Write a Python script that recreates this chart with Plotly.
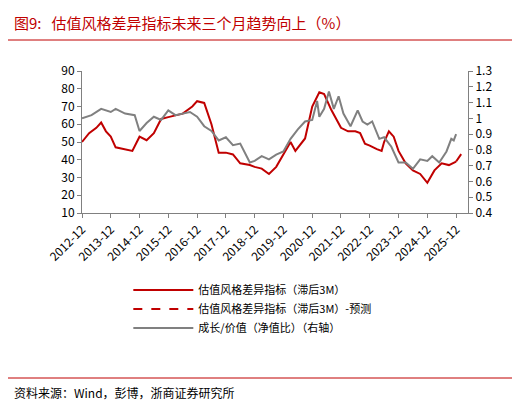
import plotly.graph_objects as go

red_dates = ["2012-12", "2013-03", "2013-06", "2013-08", "2013-10", "2013-12", "2014-02", "2014-06",
             "2014-09", "2014-12", "2015-03", "2015-06", "2015-09", "2015-12", "2016-06", "2016-10",
             "2016-12", "2017-03", "2017-06", "2017-09", "2017-12", "2018-03", "2018-06", "2018-10",
             "2018-12", "2019-03", "2019-06", "2019-09", "2019-12", "2020-03", "2020-05", "2020-09",
             "2020-12", "2021-03", "2021-05", "2021-08", "2021-12", "2022-03", "2022-06", "2022-08",
             "2022-10", "2022-12", "2023-03", "2023-05", "2023-06", "2023-08", "2023-10", "2023-12",
             "2024-03", "2024-06", "2024-09", "2024-12", "2025-03", "2025-06", "2025-09", "2025-12"]
red_vals = [50, 55, 58, 61, 56, 53, 47, 46, 45, 53, 51, 55, 63, 64, 66, 70,
            73, 72, 60, 44, 44, 43, 38, 37, 36, 35, 32, 36, 43, 50, 45, 52,
            70, 78, 77, 68, 58, 56, 56, 55, 49, 48, 46, 45, 50, 56, 53, 45,
            38, 34, 32, 27, 34, 38, 37, 39]

fc_dates = ["2025-12", "2026-02", "2026-04"]
fc_vals = [39, 43, 46]

gray_dates = ["2012-12", "2013-04", "2013-08", "2013-12", "2014-02", "2014-06", "2014-10", "2014-12",
              "2015-03", "2015-06", "2015-09", "2015-12", "2016-03", "2016-06", "2016-09", "2016-12",
              "2017-03", "2017-06", "2017-09", "2017-12", "2018-03", "2018-06", "2018-10", "2018-12",
              "2019-03", "2019-06", "2019-09", "2019-12", "2020-03", "2020-06", "2020-09", "2020-12",
              "2021-02", "2021-03", "2021-05", "2021-07", "2021-09", "2021-11", "2022-01", "2022-04",
              "2022-07", "2022-09", "2022-11", "2023-01", "2023-04", "2023-06", "2023-09", "2023-12",
              "2024-03", "2024-06", "2024-09", "2024-12", "2025-02", "2025-05", "2025-08", "2025-10",
              "2025-11", "2025-12"]
gray_vals = [1.0, 1.02, 1.06, 1.04, 1.06, 1.03, 1.02, 0.92, 0.97, 1.01, 0.99, 1.05, 1.02, 1.03, 1.04, 1.01,
             0.95, 0.92, 0.86, 0.88, 0.83, 0.84, 0.72, 0.73, 0.76, 0.74, 0.77, 0.79, 0.87, 0.93, 0.98, 0.99,
             1.11, 1.01, 1.06, 1.17, 1.06, 1.14, 1.03, 0.95, 1.05, 0.98, 0.96, 0.98, 0.87, 0.88, 0.82, 0.72,
             0.72, 0.68, 0.74, 0.73, 0.76, 0.72, 0.79, 0.87, 0.86, 0.90]

tick_labels = [f"{y}-12" for y in range(2012, 2026)]

font = "Noto Sans CJK SC"
red = "#C00000"

fig = go.Figure()
fig.add_trace(go.Scatter(x=red_dates, y=red_vals, mode="lines", line=dict(color=red, width=2),
                         name="估值风格差异指标（滞后3M）"))
fig.add_trace(go.Scatter(x=fc_dates, y=fc_vals, mode="lines", line=dict(color=red, width=2, dash="dash"),
                         name="估值风格差异指标（滞后3M）-预测"))
fig.add_trace(go.Scatter(x=gray_dates, y=gray_vals, mode="lines", line=dict(color="#808080", width=2),
                         name="成长/价值（净值比）（右轴）", yaxis="y2"))

fig.update_layout(
    width=520, height=403, margin=dict(l=74, r=60, t=63, b=198),
    plot_bgcolor="white", paper_bgcolor="white",
    font=dict(family=font, size=12, color="black"),
    showlegend=True,
    legend=dict(x=0.12, y=-0.44, yanchor="top", xanchor="left", tracegroupgap=14,
                font=dict(size=11), itemwidth=60, bgcolor="rgba(0,0,0,0)"),
    xaxis=dict(range=["2012-12-01", "2026-05-01"], tickvals=[l + "-01" for l in tick_labels],
               ticktext=tick_labels, tickangle=-45, showgrid=False, showline=True,
               linecolor="#808080", ticks="outside", ticklen=4, tickcolor="#808080"),
    yaxis=dict(range=[10, 90], dtick=10, showgrid=False, showline=True, linecolor="#808080",
               ticks="outside", ticklen=4, tickcolor="#808080", zeroline=False),
    yaxis2=dict(range=[0.4, 1.3], dtick=0.1, overlaying="y", side="right", showgrid=False,
                showline=True, linecolor="#808080", ticks="outside", ticklen=4, tickcolor="#808080",
                zeroline=False),
    shapes=[
        dict(type="line", xref="paper", yref="paper", x0=-74/386, x1=(515-74)/386,
             y0=1 + 31/142, y1=1 + 31/142, line=dict(color=red, width=1)),
        dict(type="line", xref="paper", yref="paper", x0=-74/386, x1=(515-74)/386,
             y0=-(370-205)/142, y1=-(370-205)/142, line=dict(color=red, width=1)),
    ],
    annotations=[
        dict(text="图9:   估值风格差异指标未来三个月趋势向上（%）", xref="paper", yref="paper",
             x=-70/386, y=1 + 49/142, xanchor="left", yanchor="middle", showarrow=False,
             font=dict(size=15, color=red)),
        dict(text="资料来源：Wind，彭博，浙商证券研究所", xref="paper", yref="paper",
             x=-70/386, y=-(384-205)/142, xanchor="left", yanchor="middle", showarrow=False,
             font=dict(size=12, color="black")),
    ],
)

fig.write_html("out.html")
